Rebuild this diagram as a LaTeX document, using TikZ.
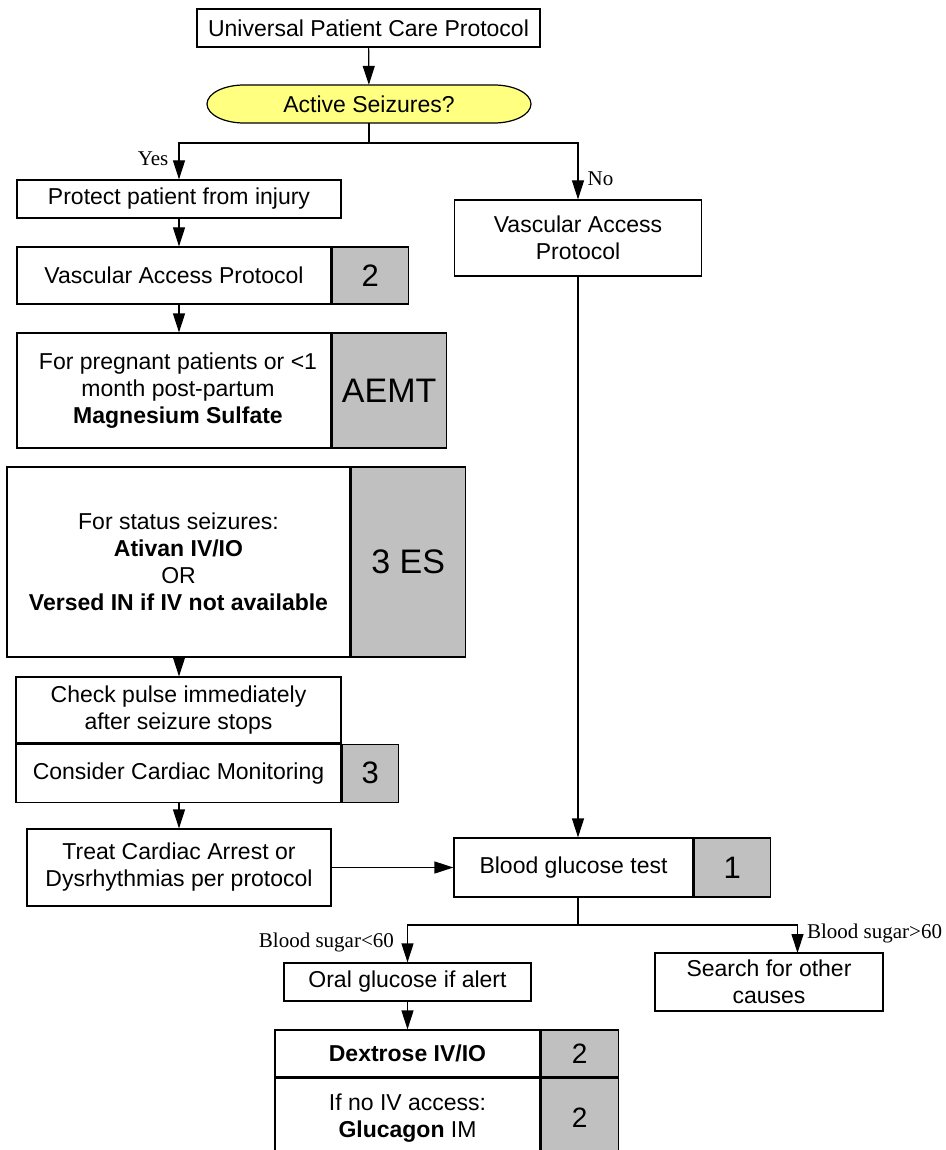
\documentclass[tikz,border=0pt]{standalone}
\usepackage{fontspec}
\setmainfont{Liberation Sans}
\newfontfamily\labelfont{Liberation Serif}
\usetikzlibrary{arrows.meta, positioning}
\definecolor{tagGray}{RGB}{192,192,192}
\definecolor{seizYellow}{RGB}{255,255,128}

\begin{document}
\begin{tikzpicture}[
  x=1pt, y=-1pt,
  box/.style={draw, line width=1.2pt, fill=white, align=center, inner sep=0pt, font=\fontsize{23}{27}\selectfont},
  tag/.style={box, fill=tagGray, font=\fontsize{31}{35}\selectfont},
  bigtag/.style={tag, font=\fontsize{34}{38}\selectfont},
  lbl/.style={font=\labelfont\fontsize{21}{24}\selectfont, inner sep=5pt},
  arrow/.style={-{Triangle[length=19pt,width=12pt]}, line width=1.2pt}
]
\useasboundingbox (0,0) rectangle (945,1150);

% top of the chart
\node[box, minimum width=343, minimum height=38] (upcp) at (368.5,28) {Universal Patient Care Protocol};
\draw[line width=1.2pt, fill=seizYellow] (244,85) arc[start angle=90, end angle=270, x radius=37pt, y radius=19pt]
  -- (494,123) arc[start angle=-90, end angle=90, x radius=37pt, y radius=19pt] -- cycle;
\node[minimum width=324, minimum height=38, inner sep=0pt, font=\fontsize{23}{27}\selectfont] (seiz) at (369,104) {Active Seizures?};

% left branch
\node[box, minimum width=324, minimum height=38] (protect) at (179,199) {Protect patient from injury};
\node[box, minimum width=314, minimum height=57] (vap) at (174,275.5) {Vascular Access Protocol};
\node[tag, minimum width=76, minimum height=57, right=0pt of vap] (vapTag) {2};
\node[box, minimum width=314, minimum height=115] (mag) at (174,390.5) {\hspace*{8pt}For pregnant patients or <1\\\hspace*{8pt}month post-partum\\\hspace*{8pt}\textbf{Magnesium Sulfate}};
\node[bigtag, minimum width=114, minimum height=115, right=0pt of mag] (magTag) {AEMT};
\node[box, minimum width=343, minimum height=190] (status) at (178.5,562) {For status seizures:\\\textbf{Ativan IV/IO}\\OR\\\textbf{Versed IN if IV not available}};
\node[bigtag, minimum width=114, minimum height=190, right=0pt of status] (statusTag) {3 ES};
\node[box, minimum width=325, minimum height=66] (check) at (178.5,710) {Check pulse immediately\\after seizure stops};
\node[box, minimum width=325, minimum height=58, below=0pt of check] (cardiac) {Consider Cardiac Monitoring};
\node[tag, minimum width=56, minimum height=58, right=0pt of cardiac] (cardiacTag) {3};
\node[box, minimum width=304, minimum height=77] (treat) at (179,867.5) {Treat Cardiac Arrest or\\Dysrhythmias per protocol};

% right branch
\node[box, minimum width=247, minimum height=76] (vapR) at (578,238) {Vascular Access\\Protocol};
\node[box, minimum width=239, minimum height=59] (bgt) at (573.5,867.5) {Blood glucose test};
\node[tag, minimum width=76, minimum height=59, right=0pt of bgt] (bgtTag) {1};
\node[box, minimum width=247, minimum height=38] (oral) at (407.5,982) {Oral glucose if alert};
\node[box, minimum width=228, minimum height=58] (search) at (769,982) {Search for other\\causes};
\node[box, minimum width=265, minimum height=47] (dex) at (407.5,1053.5) {\textbf{Dextrose IV/IO}};
\node[tag, minimum width=77, minimum height=47, right=0pt of dex, font=\fontsize{28}{32}\selectfont] (dexTag) {2};
\node[box, minimum width=265, minimum height=80, below=0pt of dex] (gluc) {If no IV access:\\\textbf{Glucagon} IM};
\node[tag, minimum width=77, minimum height=80, right=0pt of gluc, font=\fontsize{28}{32}\selectfont] (glucTag) {2};

% connectors
\coordinate (split) at (369,143);
\coordinate (bgSplit) at (578,925);
\coordinate (searchIn) at (797.5,953);
\draw[arrow] (upcp) -- (seiz);
\draw[line width=1.2pt] (seiz.south) -- (split);
\draw[arrow] (split) -| node[lbl, pos=0.71, left, inner sep=10pt] {Yes} (protect.north);
\draw[arrow] (split) -| node[lbl, pos=0.82, right, inner sep=9pt] {No} (vapR.north);
\draw[arrow] (protect.south) -- (protect.south |- vap.north);
\draw[arrow] (protect.south |- vap.south) -- (protect.south |- mag.north);
\draw[arrow] (protect.south |- status.south) -- (protect.south |- check.north);
\draw[arrow] (protect.south |- cardiac.south) -- (treat.north);
\draw[arrow] (treat.east) -- (bgt.west);
\draw[arrow] (vapR.south) -- (vapR.south |- bgt.north);
\draw[line width=1.2pt] (vapR.south |- bgt.south) -- (bgSplit);
\draw[arrow] (bgSplit) -| node[lbl, pos=0.74, left, inner sep=13pt] {Blood sugar<60} (oral.north);
\draw[arrow] (bgSplit) -| node[lbl, pos=0.66, right, inner sep=9pt] {Blood sugar>60} (searchIn);
\draw[arrow] (oral.south) -- (dex.north -| oral.south);
\end{tikzpicture}
\end{document}
